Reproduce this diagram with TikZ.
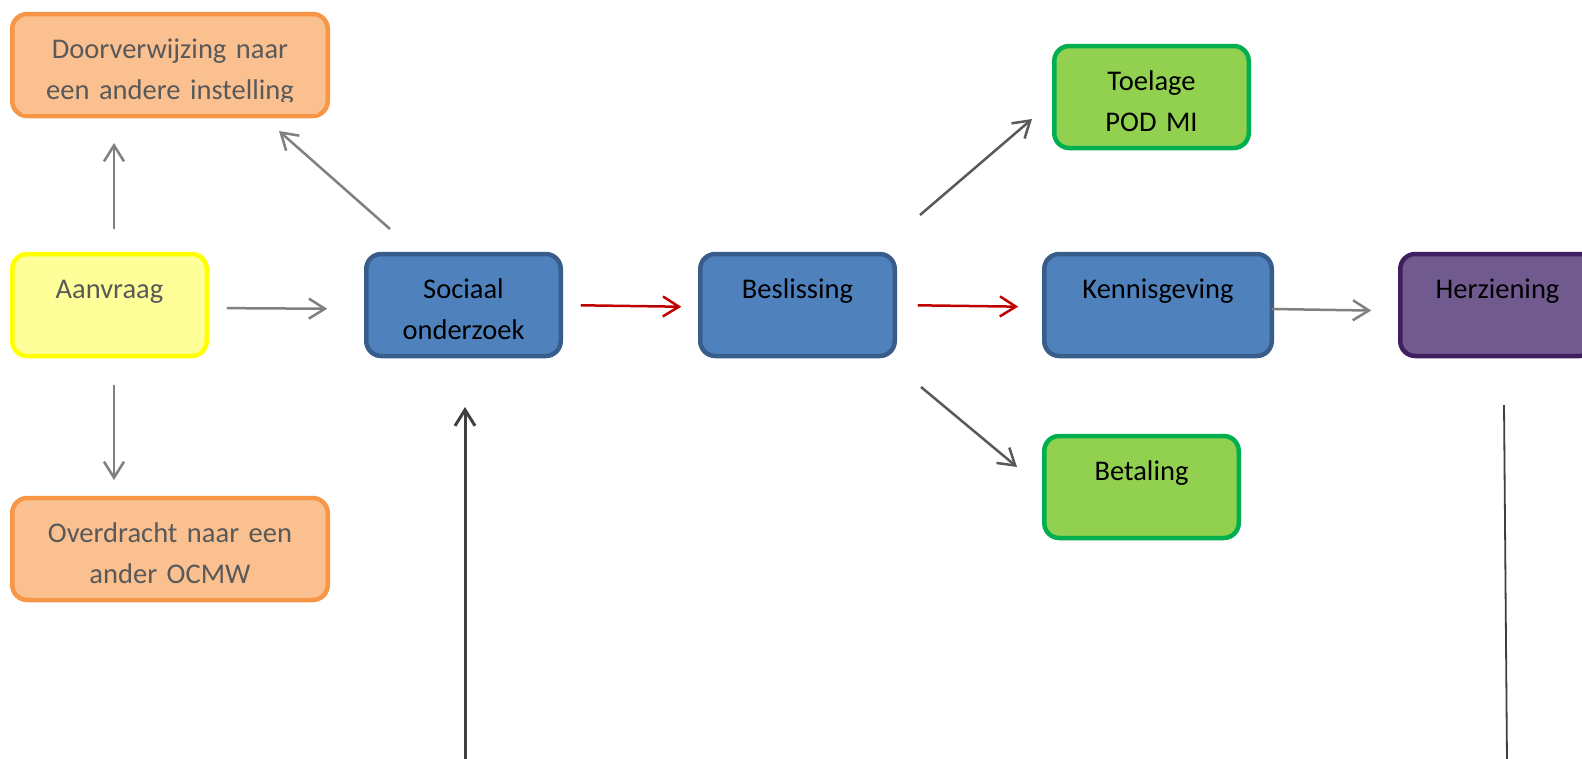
\documentclass[tikz,border=0pt]{standalone}
\usepackage{fontspec}
\setmainfont[WordSpace={0.8}]{Carlito}
\usetikzlibrary{arrows.meta}
\definecolor{orfill}{HTML}{FAC090}
\definecolor{ordraw}{HTML}{F79646}
\definecolor{yefill}{HTML}{FFFF99}
\definecolor{yedraw}{HTML}{FFFF00}
\definecolor{blfill}{HTML}{4F81BD}
\definecolor{bldraw}{HTML}{385D8A}
\definecolor{grfill}{HTML}{92D050}
\definecolor{grdraw}{HTML}{00B050}
\definecolor{pufill}{HTML}{715A8E}
\definecolor{pudraw}{HTML}{3F1F5F}
\definecolor{txtgrey}{HTML}{595959}
\definecolor{arrgrey}{HTML}{808080}
\definecolor{arrdark}{HTML}{595959}
\definecolor{arrblack}{HTML}{404040}
\definecolor{arrred}{HTML}{C00000}
\begin{document}
\begin{tikzpicture}[x=1pt,y=-1pt,
  box/.style={draw, line width=4.5pt, rounded corners=15pt, anchor=north,
    inner sep=0pt, outer sep=0pt, align=center, text height=44pt, text depth=58pt,
    font=\fontsize{28.5pt}{41pt}\selectfont},
  wide/.style={text width=315.5pt},
  narrow/.style={text width=194.5pt},
  orangebox/.style={box, wide, fill=orfill, draw=ordraw, text=txtgrey},
  yellowbox/.style={box, narrow, fill=yefill, draw=yedraw, text=txtgrey},
  bluebox/.style={box, narrow, fill=blfill, draw=bldraw, text=black},
  greenbox/.style={box, narrow, fill=grfill, draw=grdraw, text=black},
  purplebox/.style={box, narrow, fill=pufill, draw=pudraw, text=black},
  conn/.style={line width=2.5pt, -{Straight Barb[length=16pt,width=20pt]}},
  lightconn/.style={conn, draw=arrgrey},
  redconn/.style={conn, draw=arrred},
  darkconn/.style={conn, draw=arrdark},
  blackconn/.style={conn, draw=arrblack, line width=3pt}
]
\useasboundingbox (0,0) rectangle (1582,758);
\fill[white] (0,0) rectangle (1582,758);
\begin{scope}
\clip (0,0) rectangle (1582,758);

\node[orangebox] (door) at (170,14) {Doorverwijzing naar\\een andere instelling};
\fill[orfill] (22,101.5) rectangle (318,113.5);
\node[yellowbox] (aan) at (109.5,254) {Aanvraag};
\node[orangebox] (over) at (170,498) {Overdracht naar een\\ander OCMW};
\node[bluebox] (soc) at (463.5,254) {Sociaal\\onderzoek};
\node[bluebox] (bes) at (797.5,254) {Beslissing};
\node[greenbox] (toe) at (1151.5,46) {Toelage\\POD MI};
\node[bluebox, text width=227.5pt] (ken) at (1158,254) {Kennisgeving};
\node[greenbox] (bet) at (1141.5,436) {Betaling};
\node[purplebox] (her) at (1497.5,254) {Herziening};

% free connector ends
\coordinate (aanup) at (114,229);
\coordinate (doorin) at (114,143);
\coordinate (aandown) at (114,385);
\coordinate (overin) at (114,480);
\coordinate (socup) at (390,229);
\coordinate (doorin2) at (279,131);
\coordinate (besup) at (920,215);
\coordinate (toein) at (1032,119);
\coordinate (besdown) at (921,387);
\coordinate (betin) at (1017,467);
\coordinate (bottomin) at (465,762);
\coordinate (socin) at (465,407);
\coordinate (herout) at (1504,405);
\coordinate (herend) at (1507,762);

\draw[lightconn] (aanup) -- (doorin);
\draw[lightconn] (aandown) -- (overin);
\draw[lightconn] (socup) -- (doorin2);
\draw[lightconn, shorten <=20pt, shorten >=39pt] ([yshift=-3pt]aan.east) -- ([yshift=-4pt]soc.west);
\draw[redconn, shorten <=20pt, shorten >=19pt] (soc.east) -- ([yshift=-2pt]bes.west);
\draw[redconn, shorten <=23pt, shorten >=26pt] (bes.east) -- ([yshift=-2pt]ken.west);
\draw[lightconn, shorten >=29pt] ([yshift=-4pt]ken.east) -- ([yshift=-6pt]her.west);
\draw[darkconn] (besup) -- (toein);
\draw[darkconn] (besdown) -- (betin);
\draw[blackconn] (bottomin) -- (socin);
\draw[draw=arrblack, line width=1.8pt] (herout) -- (herend);
\end{scope}
\end{tikzpicture}
\end{document}
